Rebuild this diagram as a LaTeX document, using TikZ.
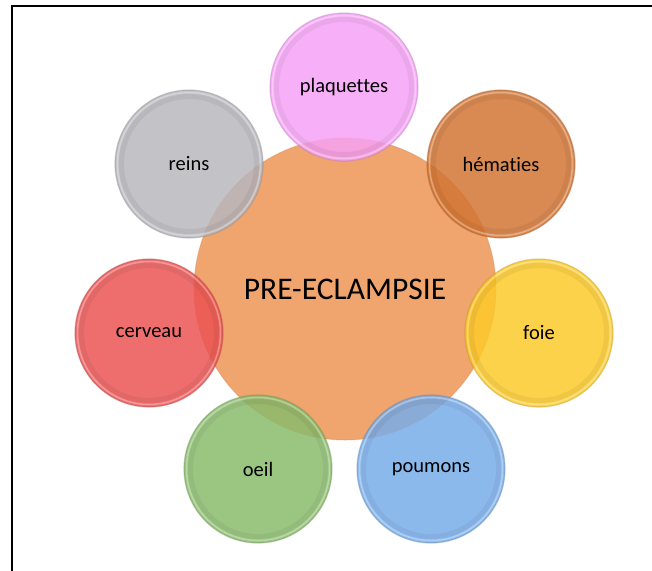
\documentclass[tikz,border=0pt]{standalone}
\usepackage{fontspec}
\setmainfont{Carlito}[Ligatures=NoCommon]
\definecolor{corange}{HTML}{F0A46E}
\definecolor{cpink}{HTML}{F6A2F6}
\definecolor{cbrown}{HTML}{D27534}
\definecolor{cyellow}{HTML}{FCCA2A}
\definecolor{cblue}{HTML}{78ADE9}
\definecolor{cgreen}{HTML}{8ABC6C}
\definecolor{cred}{HTML}{EB5454}
\definecolor{cgray}{HTML}{B7B7BD}
\tikzset{
  organ/.style={circle, minimum size=148pt, inner sep=0pt, fill=#1, fill opacity=0.85,
    draw=#1!70!black, draw opacity=0.35, line width=1.2pt, text opacity=1,
    font=\fontsize{20.5}{24}\selectfont},
  bevel/.style={white, opacity=0.3, line width=1.5pt},
  shade ring/.style={black, opacity=0.05, line width=5pt},
  hubnode/.style={circle, minimum size=302pt, inner sep=0pt, fill=corange,
    draw=corange!85!black, draw opacity=0.35, line width=1pt,
    font=\fontsize{31.5}{36}\selectfont},
  frameline/.style={line width=2pt, black}
}
\begin{document}
\begin{tikzpicture}[x=1pt,y=-1pt]
\useasboundingbox (0,0) rectangle (652,570);
\coordinate (fa) at (12,572);
\coordinate (fb) at (12,6);
\coordinate (fc) at (654,6);
\draw[frameline] (fa) -- (fb) -- (fc);
\node[hubnode] (c) at (345,289) {PRE-ECLAMPSIE};
\node[organ=cpink]   (p1) at (344,87)  {plaquettes};
\node[organ=cbrown]  (p2) at (501,164) {hématies};
\node[organ=cyellow] (p3) at (539,333) {foie};
\node[organ=cblue]   (p4) at (431,469) {poumons};
\node[organ=cgreen]  (p5) at (258,469) {oeil};
\node[organ=cred]    (p6) at (149,333) {cerveau};
\node[organ=cgray]   (p7) at (189,164) {reins};
\foreach \n in {p1,p2,p3,p4,p5,p6,p7}{
  \draw[bevel] (\n.center) circle (71.5);
  \draw[shade ring] (\n.center) circle (67.5);
}
\end{tikzpicture}
\end{document}
